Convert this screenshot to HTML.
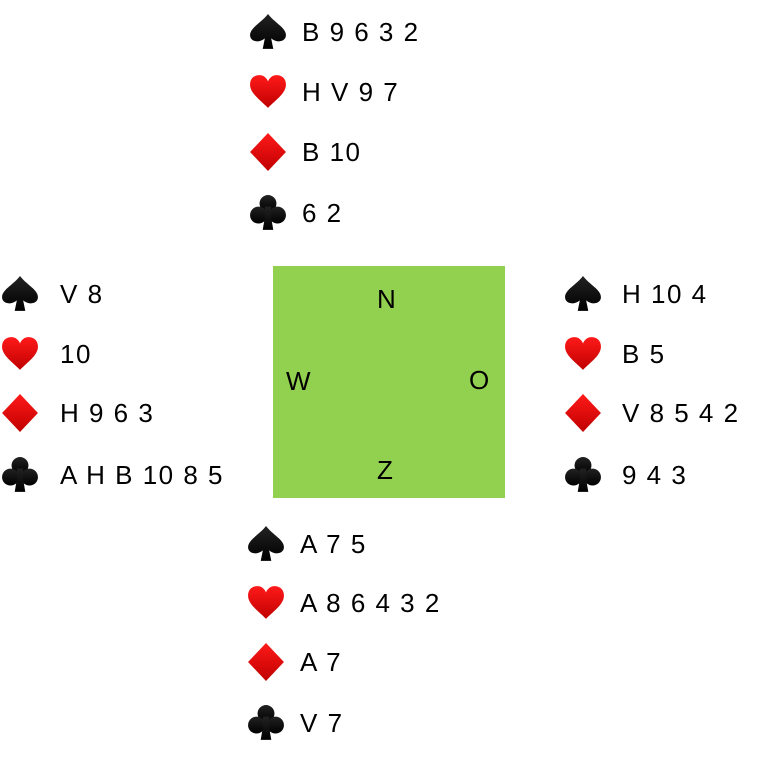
<!DOCTYPE html>
<html><head><meta charset="utf-8"><style>
html,body{margin:0;padding:0;background:#fff;}
svg text{font-family:"Liberation Sans",sans-serif;font-size:26px;letter-spacing:1.5px;fill:#000;}
</style></head><body>
<svg width="761" height="763" viewBox="0 0 761 763" xmlns="http://www.w3.org/2000/svg">
<defs>
<linearGradient id="gr" x1="0" y1="0" x2="0" y2="1"><stop offset="0" stop-color="#ff1a1a"/><stop offset="1" stop-color="#c00000"/></linearGradient>
<linearGradient id="gb" x1="0" y1="0" x2="0" y2="1"><stop offset="0" stop-color="#222"/><stop offset="1" stop-color="#000"/></linearGradient>
<symbol id="sp" viewBox="0 0 36 36"><path fill="url(#gb)" d="M18 1 C12 9 1 14 1 21 C1 27 9 29 15 24 L13 34 L23 34 L21 24 C27 29 35 27 35 21 C35 14 24 9 18 1Z"/></symbol>
<symbol id="he" viewBox="0 0 36 36"><path fill="url(#gr)" d="M18 33 C10 25 1 19 1 11 C1 5 5 2 10 2 C14 2 17 5 18 8 C19 5 22 2 26 2 C31 2 35 5 35 11 C35 19 26 25 18 33Z"/></symbol>
<symbol id="di" viewBox="0 0 36 36"><path fill="url(#gr)" d="M18 0 L35 18 L18 36 L1 18Z"/></symbol>
<symbol id="cl" viewBox="0 0 36 36"><g fill="url(#gb)"><circle cx="18" cy="9" r="8"/><circle cx="9" cy="20" r="8"/><circle cx="27" cy="20" r="8"/><path d="M15 12 L21 12 L21 22 L23 34 L13 34 L15 22Z"/></g></symbol>
</defs>
<rect x="273" y="266" width="232" height="232" fill="#92d050"/>
<g style="font-size:28px;letter-spacing:0">
<text x="377" y="308">N</text><text x="286" y="390">W</text><text x="469" y="389">O</text><text x="377" y="479">Z</text>
</g>
<!-- North -->
<use href="#sp" x="249" y="13" width="38" height="38"/><text x="302" y="41">B 9 6 3 2</text>
<use href="#he" x="249" y="73" width="38" height="38"/><text x="302" y="101">H V 9 7</text>
<use href="#di" x="249" y="133" width="38" height="38"/><text x="302" y="161">B 10</text>
<use href="#cl" x="249" y="194" width="38" height="38"/><text x="302" y="222">6 2</text>
<!-- West -->
<use href="#sp" x="1" y="275" width="38" height="38"/><text x="60" y="303">V 8</text>
<use href="#he" x="1" y="335" width="38" height="38"/><text x="60" y="363">10</text>
<use href="#di" x="1" y="394" width="38" height="38"/><text x="60" y="422">H 9 6 3</text>
<use href="#cl" x="1" y="456" width="38" height="38"/><text x="60" y="484">A H B 10 8 5</text>
<!-- East -->
<use href="#sp" x="564" y="275" width="38" height="38"/><text x="622" y="303">H 10 4</text>
<use href="#he" x="564" y="335" width="38" height="38"/><text x="622" y="363">B 5</text>
<use href="#di" x="564" y="394" width="38" height="38"/><text x="622" y="422">V 8 5 4 2</text>
<use href="#cl" x="564" y="456" width="38" height="38"/><text x="622" y="484">9 4 3</text>
<!-- South -->
<use href="#sp" x="247" y="525" width="38" height="38"/><text x="300" y="553">A 7 5</text>
<use href="#he" x="247" y="584" width="38" height="38"/><text x="300" y="612">A 8 6 4 3 2</text>
<use href="#di" x="247" y="643" width="38" height="38"/><text x="300" y="671">A 7</text>
<use href="#cl" x="247" y="704" width="38" height="38"/><text x="300" y="732">V 7</text>
</svg>
</body></html>
